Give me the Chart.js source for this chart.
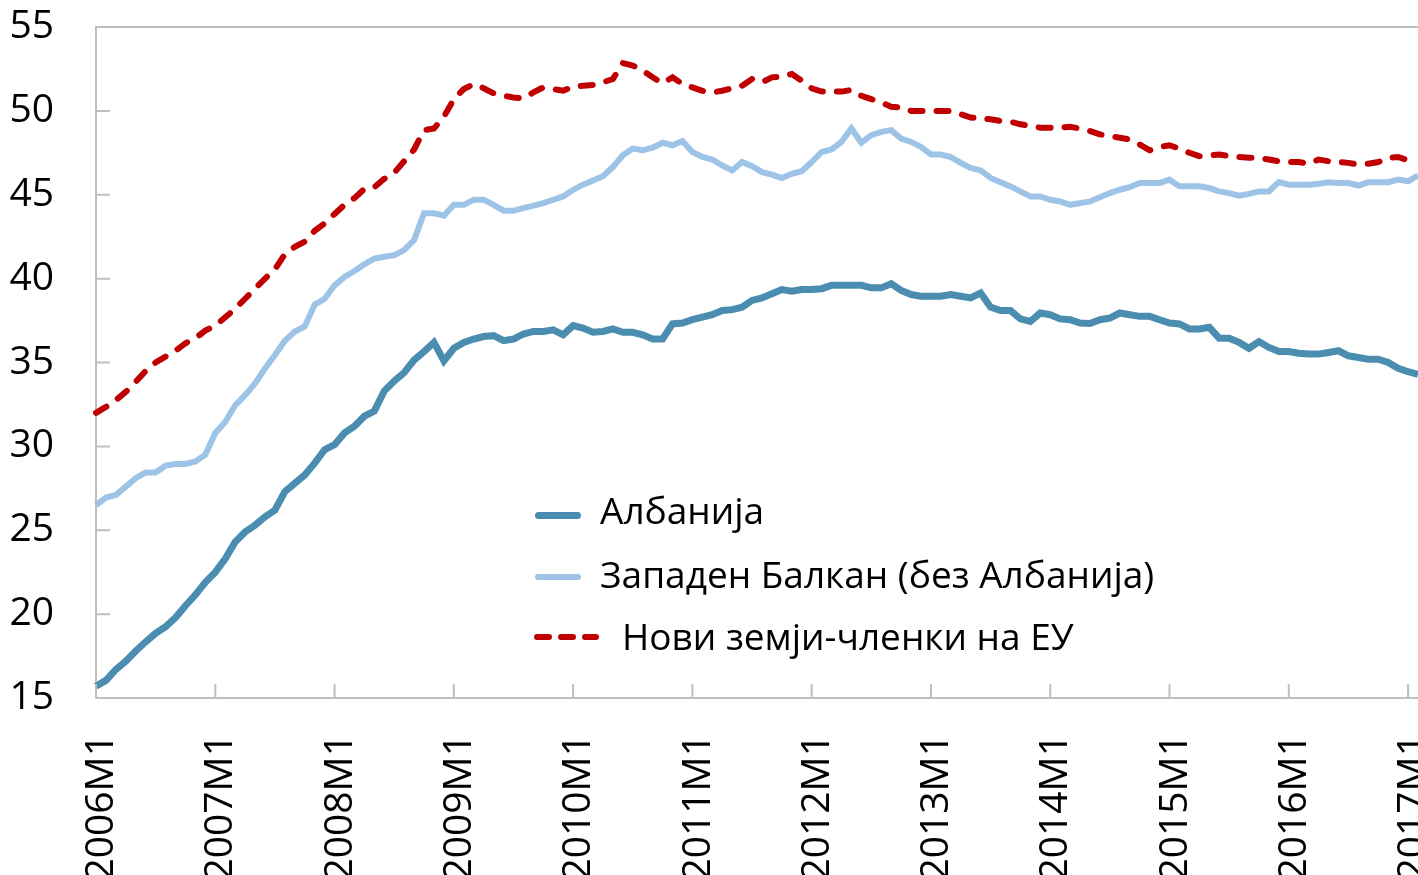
<!DOCTYPE html>
<html lang="mk">
<head>
<meta charset="utf-8">
<title>Албанија и регионот</title>
<script src="https://cdn.jsdelivr.net/npm/chart.js@4.4.1/dist/chart.umd.min.js"></script>
<style>
    html, body { margin: 0; padding: 0; background: #fff; overflow: hidden; }
    #wrap { position: relative; width: 1418px; height: 875px; }
    #chart { display: block; }
    .legend-line { position: absolute; left: 535px; width: 46px; border-radius: 4px; }
    .legend-text {
        position: absolute;
        font-family: 'Open Sans', sans-serif;
        font-size: 37px;
        line-height: 50px;
        color: #000;
        white-space: nowrap;
    }
    .legend-dash { position: absolute; left: 532px; }
</style>
</head>
<body>
<div id="wrap">
    <canvas id="chart" width="1418" height="875"></canvas>
    <!-- Legend sits inside the plot area, like in the original -->
    <div class="legend-line" style="top:512px;height:7px;background:#4A8DB0"></div>
    <div class="legend-text" style="left:600px;top:485px">Албанија</div>
    <div class="legend-line" style="top:574px;height:6px;background:#9DC3E6"></div>
    <div class="legend-text" style="left:600px;top:549px">Западен Балкан (без Албанија)</div>
    <svg class="legend-dash" style="top:630px" width="70" height="14">
        <line x1="5" y1="7" x2="64" y2="7" stroke="#C00000" stroke-width="6" stroke-linecap="round" stroke-dasharray="12 12"></line>
    </svg>
    <div class="legend-text" style="left:622px;top:611px">Нови земји-членки на ЕУ</div>
</div>

<script>
// Years on the x axis (monthly data, 2006M1 .. 2017M2)
const years = [2006, 2007, 2008, 2009, 2010, 2011, 2012, 2013, 2014, 2015, 2016, 2017];
const lastMonth2017 = 2;

const months = [];
years.forEach(function(y) {
    const n = (y === 2017) ? lastMonth2017 : 12;
    for (let m = 1; m <= n; m++) months.push(y + 'M' + m);
});

// Y axis ticks
const yTicks = [15, 20, 25, 30, 35, 40, 45, 50, 55];

// Series values
const albania = [
    15.7, 16.05, 16.7, 17.2, 17.8, 18.35, 18.85, 19.25, 19.8, 20.5, 21.15, 21.9,
    22.5, 23.3, 24.3, 24.9, 25.3, 25.8, 26.2, 27.3, 27.8, 28.3, 29.0, 29.8,
    30.1, 30.8, 31.2, 31.8, 32.1, 33.3, 33.9, 34.4, 35.15, 35.65, 36.2, 35.1,
    35.85, 36.2, 36.4, 36.55, 36.6, 36.3, 36.4, 36.7, 36.85, 36.85, 36.95, 36.65,
    37.2, 37.05, 36.8, 36.85, 37.0, 36.8, 36.8, 36.65, 36.4, 36.4, 37.3, 37.35,
    37.55, 37.7, 37.85, 38.1, 38.15, 38.3, 38.7, 38.85, 39.1, 39.35, 39.25, 39.35,
    39.35, 39.4, 39.6, 39.6, 39.6, 39.6, 39.45, 39.45, 39.7, 39.3, 39.05, 38.95,
    38.95, 38.95, 39.05, 38.95, 38.85, 39.15, 38.3, 38.1, 38.1, 37.6, 37.45, 37.95,
    37.85, 37.6, 37.55, 37.35, 37.33, 37.55, 37.65, 37.95, 37.85, 37.75, 37.75, 37.55,
    37.35, 37.3, 37.0, 37.0, 37.1, 36.45, 36.45, 36.2, 35.85, 36.25, 35.9, 35.65,
    35.65, 35.55, 35.5, 35.5, 35.6, 35.7, 35.4, 35.3, 35.2, 35.2, 35.0, 34.65,
    34.45, 34.3
];

const westernBalkans = [
    26.5, 26.95, 27.1, 27.6, 28.1, 28.45, 28.45, 28.85, 28.95, 28.95, 29.1, 29.5,
    30.8, 31.45, 32.45, 33.05, 33.75, 34.65, 35.45, 36.3, 36.85, 37.15, 38.45, 38.8,
    39.6, 40.1, 40.45, 40.85, 41.2, 41.3, 41.4, 41.7, 42.3, 43.9, 43.9, 43.75,
    44.4, 44.4, 44.7, 44.7, 44.4, 44.05, 44.05, 44.2, 44.35, 44.5, 44.7, 44.9,
    45.3, 45.6, 45.85, 46.1, 46.65, 47.35, 47.75, 47.65, 47.8, 48.1, 47.95, 48.2,
    47.55, 47.25, 47.1, 46.75, 46.45, 46.95, 46.7, 46.35, 46.2, 46.0, 46.25, 46.4,
    46.95, 47.55, 47.7, 48.15, 48.95, 48.1, 48.55, 48.75, 48.85, 48.35, 48.15, 47.85,
    47.4, 47.4, 47.25, 46.9, 46.6, 46.45, 46.0, 45.75, 45.5, 45.2, 44.9, 44.9,
    44.7, 44.6, 44.4, 44.5, 44.6, 44.85, 45.1, 45.3, 45.45, 45.7, 45.7, 45.7,
    45.9, 45.5, 45.5, 45.5, 45.4, 45.2, 45.1, 44.95, 45.05, 45.2, 45.2, 45.75,
    45.6, 45.6, 45.6, 45.65, 45.75, 45.7, 45.7, 45.55, 45.75, 45.75, 45.75, 45.9,
    45.8, 46.15
];

const newMembers = [
    32.0, 32.35, 32.75, 33.25, 33.85, 34.5, 35.0, 35.35, 35.7, 36.15, 36.45, 36.9,
    37.2, 37.7, 38.2, 38.8, 39.4, 40.0, 40.55, 41.45, 41.9, 42.2, 42.85, 43.3,
    43.85, 44.4, 44.8, 45.35, 45.45, 45.95, 46.3, 47.0, 47.7, 48.85, 48.95, 49.65,
    50.7, 51.3, 51.6, 51.35, 51.05, 50.9, 50.8, 50.75, 51.1, 51.4, 51.3, 51.2,
    51.45, 51.5, 51.55, 51.7, 51.9, 52.85, 52.7, 52.4, 52.0, 51.65, 52.0, 51.6,
    51.4, 51.2, 51.1, 51.2, 51.35, 51.5, 51.9, 51.7, 52.0, 52.05, 52.2, 51.8,
    51.35, 51.15, 51.15, 51.15, 51.25, 50.9, 50.7, 50.5, 50.25, 50.2, 50.0, 50.0,
    50.0, 50.0, 50.0, 49.8, 49.6, 49.55, 49.5, 49.4, 49.35, 49.2, 49.1, 49.0,
    49.0, 49.0, 49.05, 48.95, 48.8, 48.6, 48.5, 48.4, 48.3, 48.0, 47.65, 47.85,
    47.95, 47.75, 47.5, 47.3, 47.35, 47.4, 47.3, 47.25, 47.2, 47.2, 47.1, 47.0,
    46.95, 46.95, 46.85, 47.1, 47.0, 46.95, 46.9, 46.8, 46.85, 46.95, 47.2, 47.25,
    47.05, 47.05
];

const axisGrey = '#BFBFBF';
const fontFamily = "'Open Sans', sans-serif";

// Short tick marks pointing into the plot, plus the top frame line
const innerTicks = {
    id: 'innerTicks',
    afterDraw(chart) {
        const ctx = chart.ctx;
        const area = chart.chartArea;
        const xs = chart.scales.x;
        const ys = chart.scales.y;
        ctx.save();
        ctx.strokeStyle = axisGrey;
        ctx.lineWidth = 2;
        ctx.beginPath();
        // top border
        ctx.moveTo(area.left, area.top);
        ctx.lineTo(area.right, area.top);
        yTicks.forEach(function(v) {
            const y = ys.getPixelForValue(v);
            ctx.moveTo(area.left, y);
            ctx.lineTo(area.left + 14, y);
        });
        months.forEach(function(m, i) {
            if (i % 12 !== 0) return;
            const x = xs.getPixelForValue(i);
            ctx.moveTo(x, area.bottom);
            ctx.lineTo(x, area.bottom - 14);
        });
        ctx.stroke();
        ctx.restore();
    }
};

document.addEventListener('DOMContentLoaded', function() {
    const ctx = document.getElementById('chart').getContext('2d');

    new Chart(ctx, {
        type: 'line',
        data: {
            labels: months,
            datasets: [
                {
                    label: 'Албанија',
                    data: albania,
                    borderColor: '#4A8DB0',
                    borderWidth: 7,
                    pointRadius: 0,
                    tension: 0
                },
                {
                    label: 'Западен Балкан (без Албанија)',
                    data: westernBalkans,
                    borderColor: '#9DC3E6',
                    borderWidth: 6,
                    pointRadius: 0,
                    tension: 0
                },
                {
                    label: 'Нови земји-членки на ЕУ',
                    data: newMembers,
                    borderColor: '#C00000',
                    borderWidth: 6,
                    borderDash: [12, 14],
                    borderCapStyle: 'round',
                    pointRadius: 0,
                    tension: 0
                }
            ]
        },
        options: {
            responsive: false,
            animation: false,
            devicePixelRatio: 1,
            layout: { padding: { top: 27, left: 0, right: 0, bottom: 0 } },
            plugins: {
                legend: { display: false },
                tooltip: { enabled: false }
            },
            scales: {
                x: {
                    type: 'category',
                    offset: false,
                    border: { display: true, color: axisGrey, width: 2 },
                    grid: {
                        display: true,
                        drawOnChartArea: false,
                        drawTicks: true,
                        tickLength: 36,
                        tickColor: 'rgba(0,0,0,0)'
                    },
                    ticks: {
                        autoSkip: false,
                        maxRotation: 90,
                        minRotation: 90,
                        padding: 0,
                        labelOffset: 6,
                        color: '#000',
                        font: { family: fontFamily, size: 39 },
                        callback: function(value, index) {
                            return index % 12 === 0 ? months[index] : null;
                        }
                    },
                    afterFit: function(scale) {
                        scale.height = 177;
                        // let the plot run to the right edge, as in the original
                        scale.paddingLeft = 0;
                        scale.paddingRight = 0;
                    }
                },
                y: {
                    min: 15,
                    max: 55,
                    border: { display: true, color: axisGrey, width: 2 },
                    grid: {
                        display: true,
                        drawOnChartArea: false,
                        drawTicks: true,
                        tickLength: 42,
                        tickColor: 'rgba(0,0,0,0)'
                    },
                    ticks: {
                        stepSize: 5,
                        padding: 0,
                        color: '#000',
                        font: { family: fontFamily, size: 39 }
                    },
                    afterFit: function(scale) { scale.width = 96; }
                }
            }
        },
        plugins: [innerTicks]
    });
});
</script>
</body>
</html>
